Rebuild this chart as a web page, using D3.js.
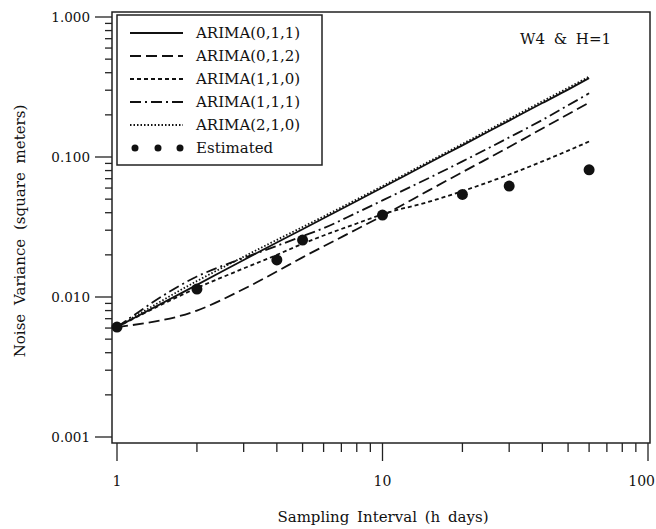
<!DOCTYPE html>
<html>
    <head>
        <script src="https://cdn.jsdelivr.net/npm/d3@7/dist/d3.min.js" type="text/javascript"></script>
        <style>
            body { margin: 0; background: #fff; }
            text { font-family: "DejaVu Serif", serif; fill: #111; }
        </style>
    </head>
    <body>
    </body>
    <script>
        var width = 656;
        var height = 529;

        // sampling interval (h days) at which the model curves were read
        var hDays = [1, 2, 3, 4, 5, 6, 8, 10, 15, 20, 30, 40, 50, 60];
        var arima011 = [0.0061, 0.0122, 0.0184, 0.0245, 0.0305, 0.0365, 0.0485, 0.0605, 0.091, 0.121, 0.182, 0.243, 0.303, 0.366];
        var arima012 = [0.0061, 0.0080, 0.0114, 0.0152, 0.0192, 0.0230, 0.0305, 0.0380, 0.058, 0.078, 0.118, 0.160, 0.202, 0.245];
        var arima110 = [0.0061, 0.0116, 0.0160, 0.0200, 0.0240, 0.0275, 0.0335, 0.0390, 0.048, 0.057, 0.075, 0.093, 0.111, 0.129];
        var arima111 = [0.0061, 0.0140, 0.0190, 0.0232, 0.0272, 0.0310, 0.0400, 0.0490, 0.071, 0.093, 0.138, 0.184, 0.234, 0.285];
        var arima210 = [0.0061, 0.0130, 0.0194, 0.0256, 0.0316, 0.0376, 0.0498, 0.0620, 0.093, 0.124, 0.187, 0.250, 0.312, 0.375];

        // estimated noise variance
        var estH = [1, 2, 4, 5, 10, 20, 30, 60];
        var estimated = [0.0061, 0.0114, 0.0184, 0.0255, 0.0385, 0.054, 0.062, 0.081];

        var seriesNames = ["ARIMA(0,1,1)", "ARIMA(0,1,2)", "ARIMA(1,1,0)", "ARIMA(1,1,1)", "ARIMA(2,1,0)"];
        var seriesValues = [arima011, arima012, arima110, arima111, arima210];
        var dashes = [null, "11,5", "4,3", "11,4,2,4", "1.5,2"];

        var xTickLabels = ["1", "10", "100"];
        var yTickLabels = ["0.001", "0.010", "0.100", "1.000"];

        var svg = d3.select("body").append("svg")
                    .attr("width", width)
                    .attr("height", height);

        var x = d3.scaleLog().domain([1, 100]).range([117, 648]);
        var y = d3.scaleLog().domain([0.001, 1]).range([437, 17]);

        var frame = {left: 112, right: 650, top: 12, bottom: 443};

        // frame
        svg.append("rect")
            .attr("x", frame.left).attr("y", frame.top)
            .attr("width", frame.right - frame.left)
            .attr("height", frame.bottom - frame.top)
            .attr("fill", "none")
            .attr("stroke", "#222")
            .attr("stroke-width", 1.5);

        // x ticks (below the frame)
        var xTicks = x.ticks();
        svg.selectAll(".xtick").data(xTicks).enter().append("line")
            .attr("x1", function(d){ return x(d); })
            .attr("x2", function(d){ return x(d); })
            .attr("y1", frame.bottom)
            .attr("y2", function(d){ return xTickLabels.indexOf(String(d)) >= 0 ? frame.bottom + 18 : frame.bottom + 9; })
            .attr("stroke", "#222")
            .attr("stroke-width", 1.3);
        // last label pushed against the right edge so it stays whole
        svg.selectAll(".xlab").data(xTickLabels).enter().append("text")
            .attr("x", function(d, i){ return i === xTickLabels.length - 1 ? width - 1 : x(+d); })
            .attr("y", 486)
            .attr("text-anchor", function(d, i){ return i === xTickLabels.length - 1 ? "end" : "middle"; })
            .attr("font-size", "14px")
            .text(function(d){ return d; });

        // y ticks (left of the frame)
        var yTicks = y.ticks();
        svg.selectAll(".ytick").data(yTicks).enter().append("line")
            .attr("y1", function(d){ return y(d); })
            .attr("y2", function(d){ return y(d); })
            .attr("x1", frame.left)
            .attr("x2", function(d){ return Math.abs(Math.log10(d) - Math.round(Math.log10(d))) < 1e-6 ? frame.left - 17 : frame.left - 7; })
            .attr("stroke", "#222")
            .attr("stroke-width", 1.3);
        svg.selectAll(".ylab").data(yTickLabels).enter().append("text")
            .attr("x", 90)
            .attr("y", function(d){ return y(+d) + 5; })
            .attr("text-anchor", "end")
            .attr("font-size", "13.5px")
            .text(function(d){ return d; });

        // axis titles
        svg.append("text")
            .attr("x", 383).attr("y", 522)
            .attr("text-anchor", "middle")
            .attr("font-size", "15px")
            .attr("word-spacing", "3px")
            .text("Sampling Interval (h days)");
        svg.append("text")
            .attr("transform", "translate(25," + 231 + ") rotate(-90)")
            .attr("text-anchor", "middle")
            .attr("font-size", "15px")
            .attr("word-spacing", "4px")
            .text("Noise Variance (square meters)");

        // model curves
        var line = d3.line()
                     .x(function(d){ return x(d[0]); })
                     .y(function(d){ return y(d[1]); })
                     .curve(d3.curveMonotoneX);
        seriesValues.forEach(function(vals, k){
            svg.append("path")
                .datum(hDays.map(function(h, i){ return [h, vals[i]]; }))
                .attr("d", line)
                .attr("fill", "none")
                .attr("stroke", "#111")
                .attr("stroke-width", 1.8)
                .attr("stroke-dasharray", dashes[k]);
        });

        // estimated points
        svg.selectAll(".est").data(estH).enter().append("circle")
            .attr("cx", function(d){ return x(d); })
            .attr("cy", function(d, i){ return y(estimated[i]); })
            .attr("r", 5.5)
            .attr("fill", "#111");

        // legend
        var lg = svg.append("g");
        lg.append("rect")
            .attr("x", 117).attr("y", 15)
            .attr("width", 205).attr("height", 150)
            .attr("fill", "#fff")
            .attr("stroke", "#222")
            .attr("stroke-width", 1.5);
        var rowY = function(i){ return 33 + i * 23; };
        seriesNames.forEach(function(name, k){
            lg.append("line")
                .attr("x1", 130).attr("x2", 183)
                .attr("y1", rowY(k)).attr("y2", rowY(k))
                .attr("stroke", "#111")
                .attr("stroke-width", 1.8)
                .attr("stroke-dasharray", dashes[k]);
            lg.append("text")
                .attr("x", 196).attr("y", rowY(k) + 5)
                .attr("font-size", "15px")
                .text(name);
        });
        [135, 158, 180].forEach(function(cx){
            lg.append("circle")
                .attr("cx", cx).attr("cy", rowY(5))
                .attr("r", 3.5)
                .attr("fill", "#111");
        });
        lg.append("text")
            .attr("x", 196).attr("y", rowY(5) + 5)
            .attr("font-size", "15px")
            .text("Estimated");

        svg.append("text")
            .attr("x", 520).attr("y", 44)
            .attr("font-size", "15px")
            .attr("word-spacing", "4px")
            .text("W4 & H=1");
    </script>
</html>
